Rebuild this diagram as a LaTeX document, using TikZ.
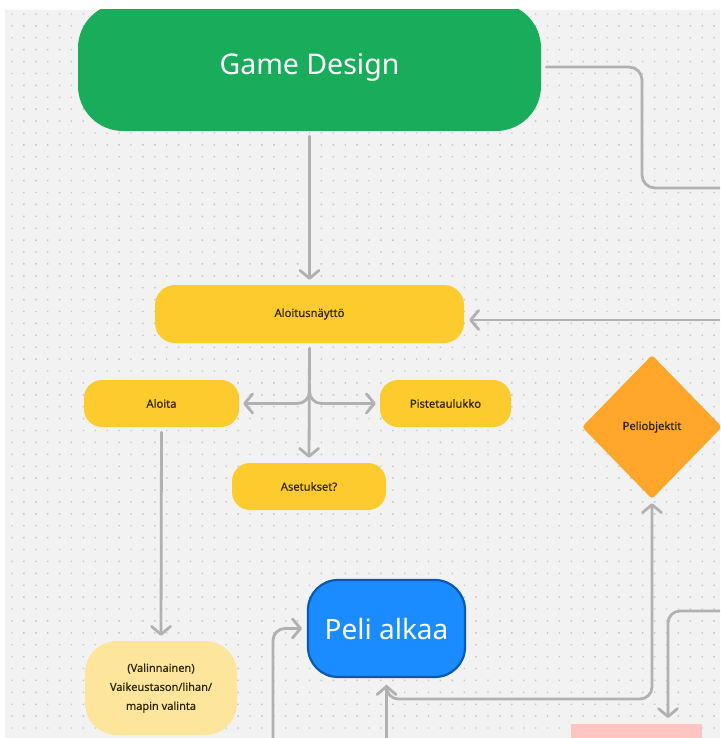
\documentclass[tikz,border=0pt]{standalone}
\usepackage{fontspec}
\setmainfont{Noto Sans}
\newfontfamily\labelfont[FakeBold=0.6]{Noto Sans}
\usetikzlibrary{arrows.meta,shapes.geometric}
\definecolor{canvas}{HTML}{F2F2F2}
\definecolor{dotc}{HTML}{C6C6C6}
\definecolor{linec}{HTML}{B1B1B1}
\definecolor{gdgreen}{HTML}{19AC5B}
\definecolor{yel}{HTML}{FDCB2E}
\definecolor{paleyel}{HTML}{FEE59C}
\definecolor{bluefill}{HTML}{1A8CFF}
\definecolor{blueedge}{HTML}{0A58B5}
\definecolor{orng}{HTML}{FFA62B}
\definecolor{pink}{HTML}{FFC6C1}
\definecolor{labeltext}{HTML}{2E2600}
\tikzset{
  box/.style={rectangle, inner sep=0pt, align=center},
  smalllabel/.style={font=\labelfont\fontsize{11.2}{13}\selectfont, text=labeltext},
  conn/.style={draw=linec, line width=2.8pt, line cap=round, line join=round},
  tip/.style={conn, -{Straight Barb[length=8pt,width=19pt,round]}},
}
\begin{document}
\begin{tikzpicture}[x=1pt,y=-1pt]
\fill[white] (0,0) rectangle (720,738);
\useasboundingbox (0,0) rectangle (720,738);
\begin{scope}
\clip (5,10) rectangle (720,738);
\fill[canvas] (5,10) rectangle (720,738);
\foreach \y in {0,...,61} {
  \fill[dotc] foreach \x in {0,...,59} {(11.3+11.9*\x,13.3+11.9*\y) rectangle ++(1.4,1.4)};
}

% nodes
\node[box, fill=gdgreen, minimum width=463pt, minimum height=128pt, rounded corners=45pt,
      text=white, font=\fontsize{28.5}{32}\selectfont] (gd) at (309.5,67) {Game Design};
\node[box, fill=yel, minimum width=309pt, minimum height=58pt, rounded corners=20pt, smalllabel] (alo) at (309.5,314) {Aloitusnäyttö};
\node[box, fill=yel, minimum width=155pt, minimum height=47pt, rounded corners=18pt, smalllabel] (aloita) at (161.5,403.5) {Aloita};
\node[box, fill=yel, minimum width=131pt, minimum height=47pt, rounded corners=18pt, smalllabel] (piste) at (445.5,403.5) {Pistetaulukko};
\node[box, fill=yel, minimum width=154pt, minimum height=47pt, rounded corners=18pt, smalllabel] (aset) at (309,486.5) {Asetukset?};
\node[box, fill=paleyel, minimum width=152pt, minimum height=94pt, rounded corners=32pt,
      font=\labelfont\fontsize{11}{19}\selectfont, text=labeltext] (val) at (161,688) {(Valinnainen)\\Vaikeustason/lihan/\\mapin valinta};
\node[box, fill=bluefill, draw=blueedge, line width=2.2pt, minimum width=157pt, minimum height=97pt, rounded corners=30pt,
      text=white, font=\fontsize{28}{32}\selectfont] (peli) at (386.5,628.5) {Peli alkaa};
\node[diamond, fill=orng, minimum width=140pt, minimum height=144pt, inner sep=0pt, rounded corners=3pt, smalllabel] (obj) at (652,427) {Peliobjektit};
\node[rectangle, fill=pink, minimum width=131pt, minimum height=40pt, inner sep=0pt, anchor=north] (pinkbox) at (636.5,724) {};

% free ends
\coordinate (e1) at (730,188);
\coordinate (e2) at (730,320);
\coordinate (br) at (309.5,384);
\coordinate (e3) at (273,750);
\coordinate (e4) at (386.5,750);
\coordinate (j) at (386.5,686);
\coordinate (e5) at (730,611);
\coordinate (p1) at (668,724);

% connectors
\draw[tip, shorten <=5pt, shorten >=5pt] (gd.south) -- (alo.north);
\draw[conn, rounded corners=13pt, shorten <=5pt] (gd.east) -- (642,67) -- (642,188) -- (e1);
\draw[tip, shorten >=5pt] (e2) -- (alo.east |- e2);
\draw[tip, shorten <=5pt, shorten >=5pt] (alo.south) -- (aset.north);
\draw[tip, rounded corners=12pt, shorten >=4pt] (br) |- (aloita.east);
\draw[tip, rounded corners=12pt, shorten >=4pt] (br) |- (piste.west);
\draw[tip, shorten <=5pt, shorten >=5pt] (aloita.south) -- (val.north);
\draw[tip, rounded corners=12pt, shorten >=5pt] (e3) |- (peli.west);
\draw[tip, shorten >=7pt] (e4) -- (peli.south);
\draw[tip, rounded corners=12pt, shorten >=4pt] (j) |- (652,699) -- (obj.south);
\draw[tip, rounded corners=12pt, shorten >=6pt] (e5) -| (p1);
\end{scope}
\end{tikzpicture}
\end{document}
